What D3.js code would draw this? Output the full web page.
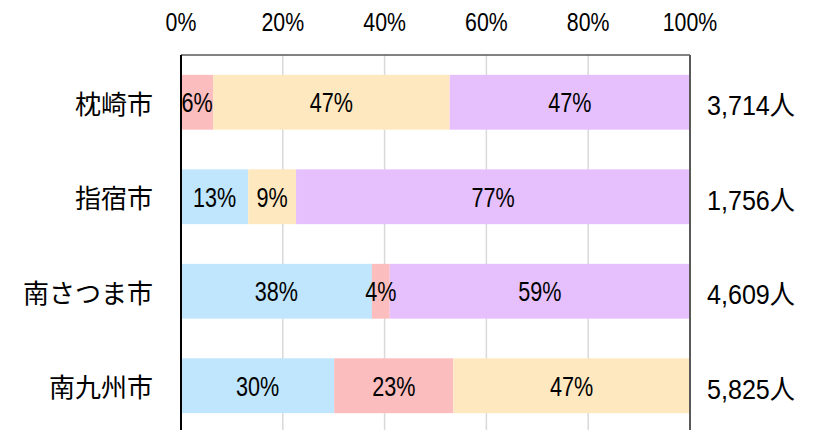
<!DOCTYPE html>
<html>
<head>
<meta charset="utf-8">
<script src="https://cdn.jsdelivr.net/npm/d3@7"></script>
<style>
  body { margin: 0; background: #fff; }
  text { font-family: "Liberation Sans", "Noto Sans CJK JP", sans-serif; fill: #000; }
  text.cat { font-family: "Noto Sans CJK JP", sans-serif; }
</style>
</head>
<body>
<script>
  var cities = ['枕崎市', '指宿市', '南さつま市', '南九州市'];
  var totals = ['3,714人', '1,756人', '4,609人', '5,825人'];
  var seriesColors = ['#bfe6fc', '#fbbdbd', '#fee8c0', '#e6c0fd'];
  var s1 = [0, 13.2, 37.5, 30.1];
  var s2 = [6.3, 0, 3.5, 23.4];
  var s3 = [46.5, 9.4, 0, 46.5];
  var s4 = [47.2, 77.4, 59.0, 0];
  var tickValues = [0, 20, 40, 60, 80, 100];

(function() {
  var width = 814, height = 430;
  var plotLeft = 181, plotRight = 690, plotTop = 55, plotBottom = 433;

  var svg = d3.select('body').append('svg').attr('width', width).attr('height', height);

  var x = d3.scaleLinear().domain([0, 100]).range([plotLeft, plotRight]);
  var y = d3.scaleBand().domain(cities).range([plotTop, plotBottom]).paddingInner(0.42).paddingOuter(0.21);

  // narrow text: the original font is condensed
  function narrow(sel, sx) {
    sel.attr('transform', function() {
      var t = d3.select(this);
      return 'translate(' + t.attr('x') + ',' + t.attr('y') + ') scale(' + sx + ',1)';
    }).attr('x', 0).attr('y', 0);
  }

  // grid
  svg.selectAll('line.grid').data(tickValues.slice(1, 5)).enter().append('line')
    .attr('x1', function(d) { return x(d); }).attr('x2', function(d) { return x(d); })
    .attr('y1', plotTop).attr('y2', height)
    .attr('stroke', '#d9d9d9').attr('stroke-width', 1.5);

  // tick labels
  svg.selectAll('text.tick').data(tickValues).enter().append('text')
    .attr('x', function(d) { return x(d); }).attr('y', 31)
    .attr('text-anchor', 'middle').style('font-size', '26px')
    .text(function(d) { return d + '%'; })
    .call(narrow, 0.82);

  var rows = cities.map(function(c, i) {
    return { city: c, values: [s1[i], s2[i], s3[i], s4[i]] };
  });
  var stack = d3.stack().keys([0, 1, 2, 3]).value(function(d, k) { return d.values[k]; });
  var layers = stack(rows);

  var g = svg.selectAll('g.layer').data(layers).enter().append('g')
    .attr('fill', function(d, i) { return seriesColors[i]; });

  g.selectAll('rect').data(function(d) { return d; }).enter().append('rect')
    .attr('x', function(d) { return x(d[0]); })
    .attr('width', function(d) { return x(d[1]) - x(d[0]); })
    .attr('y', function(d) { return y(d.data.city); })
    .attr('height', y.bandwidth());

  layers.forEach(function(layer) {
    svg.append('g').selectAll('text').data(layer.filter(function(d) { return d[1] - d[0] > 0; }))
      .enter().append('text')
      .attr('x', function(d) { return (x(d[0]) + x(d[1])) / 2; })
      .attr('y', function(d) { return y(d.data.city) + y.bandwidth() / 2 + 10; })
      .attr('text-anchor', 'middle').style('font-size', '27px')
      .text(function(d) { return Math.round(d[1] - d[0]) + '%'; })
      .call(narrow, 0.8);
  });

  // frame
  svg.append('line').attr('x1', plotLeft).attr('x2', plotRight).attr('y1', plotTop).attr('y2', plotTop)
    .attr('stroke', '#595959').attr('stroke-width', 1.5);
  svg.append('line').attr('x1', plotRight).attr('x2', plotRight).attr('y1', plotTop).attr('y2', height)
    .attr('stroke', '#595959').attr('stroke-width', 2);
  svg.append('line').attr('x1', plotLeft).attr('x2', plotLeft).attr('y1', plotTop).attr('y2', height)
    .attr('stroke', '#000').attr('stroke-width', 2);

  // category labels
  svg.selectAll('text.cat').data(cities).enter().append('text')
    .attr('class', 'cat')
    .attr('x', 153).attr('y', function(d) { return y(d) + y.bandwidth() / 2 + 2; })
    .attr('dy', '0.36em').attr('text-anchor', 'end').style('font-size', '26px')
    .text(function(d) { return d; });

  // totals
  svg.selectAll('text.total').data(totals).enter().append('text')
    .attr('x', 707).attr('y', function(d, i) { return y(cities[i]) + y.bandwidth() / 2 + 13; })
    .style('font-size', '27px')
    .text(function(d) { return d; })
    .call(narrow, 0.93);
})();
</script>
</body>
</html>
